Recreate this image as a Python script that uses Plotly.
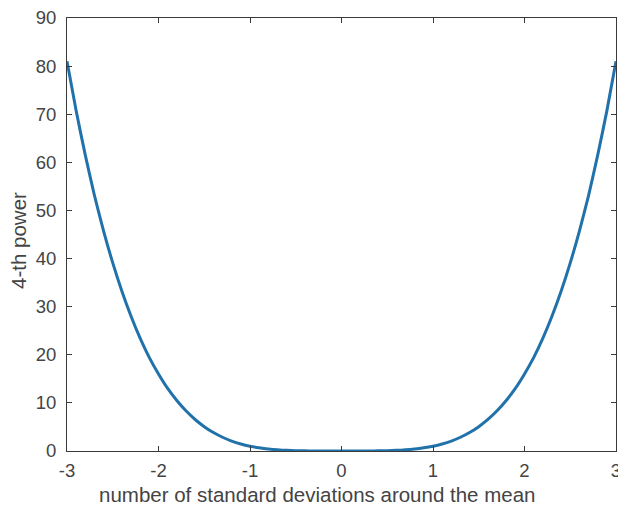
import plotly.graph_objects as go

# number of standard deviations around the mean
x_vals = [-3.0, -2.9, -2.8, -2.7, -2.6, -2.5, -2.4, -2.3, -2.2, -2.1,
          -2.0, -1.9, -1.8, -1.7, -1.6, -1.5, -1.4, -1.3, -1.2, -1.1,
          -1.0, -0.9, -0.8, -0.7, -0.6, -0.5, -0.4, -0.3, -0.2, -0.1,
          0.0, 0.1, 0.2, 0.3, 0.4, 0.5, 0.6, 0.7, 0.8, 0.9,
          1.0, 1.1, 1.2, 1.3, 1.4, 1.5, 1.6, 1.7, 1.8, 1.9,
          2.0, 2.1, 2.2, 2.3, 2.4, 2.5, 2.6, 2.7, 2.8, 2.9, 3.0]
# 4-th power values
y_vals = [81.0, 70.7, 61.5, 53.1, 45.7, 39.1, 33.2, 28.0, 23.4, 19.4,
          16.0, 13.0, 10.5, 8.35, 6.55, 5.06, 3.84, 2.86, 2.07, 1.46,
          1.0, 0.66, 0.41, 0.24, 0.13, 0.06, 0.03, 0.01, 0.0, 0.0,
          0.0, 0.0, 0.0, 0.01, 0.03, 0.06, 0.13, 0.24, 0.41, 0.66,
          1.0, 1.46, 2.07, 2.86, 3.84, 5.06, 6.55, 8.35, 10.5, 13.0,
          16.0, 19.4, 23.4, 28.0, 33.2, 39.1, 45.7, 53.1, 61.5, 70.7, 81.0]

x_ticks = [-3, -2, -1, 0, 1, 2, 3]
y_ticks = [0, 10, 20, 30, 40, 50, 60, 70, 80, 90]

x_title = "number of standard deviations around the mean"
y_title = "4-th power"

FONT = "Liberation Sans, Arial, sans-serif"
axis_color = "#3a3a3a"
text_color = "#444444"

fig = go.Figure()
fig.add_trace(go.Scatter(
    x=x_vals, y=y_vals, mode="lines",
    line=dict(color="#2172aa", width=3, shape="spline", smoothing=0.6),
    showlegend=False, cliponaxis=False,
))

common = dict(
    showgrid=False, zeroline=False, showline=True, mirror="ticks",
    linecolor=axis_color, linewidth=1,
    ticks="inside", ticklen=5, tickcolor=axis_color, tickwidth=1,
    tickfont=dict(family=FONT, size=18.5, color=text_color),
    ticklabeloverflow="allow",
)

fig.update_xaxes(
    range=[-3, 3], tickvals=x_ticks, ticktext=[str(t) for t in x_ticks],
    ticklabelstandoff=3,
    **common,
)
fig.update_yaxes(
    range=[0, 90], tickvals=y_ticks, ticktext=[str(t) for t in y_ticks],
    ticklabelstandoff=6,
    **common,
)

L, R, T, B = 67, 2, 18, 56
W, H = 618, 507
pw, ph = W - L - R, H - T - B

fig.add_annotation(
    text=x_title, xref="paper", yref="paper",
    x=(316.5 - L) / pw, y=(H - B - 494) / ph,
    xanchor="center", yanchor="middle", showarrow=False,
    font=dict(family=FONT, size=20.5, color=text_color),
)
fig.add_annotation(
    text=y_title, xref="paper", yref="paper", textangle=-90,
    x=(19 - L) / pw, y=(H - B - 241) / ph,
    xanchor="center", yanchor="middle", showarrow=False,
    font=dict(family=FONT, size=20.5, color=text_color),
)

fig.update_layout(
    width=W, height=H,
    margin=dict(l=L, r=R, t=T, b=B, autoexpand=False),
    plot_bgcolor="white", paper_bgcolor="white",
)

fig.write_html("out.html")
